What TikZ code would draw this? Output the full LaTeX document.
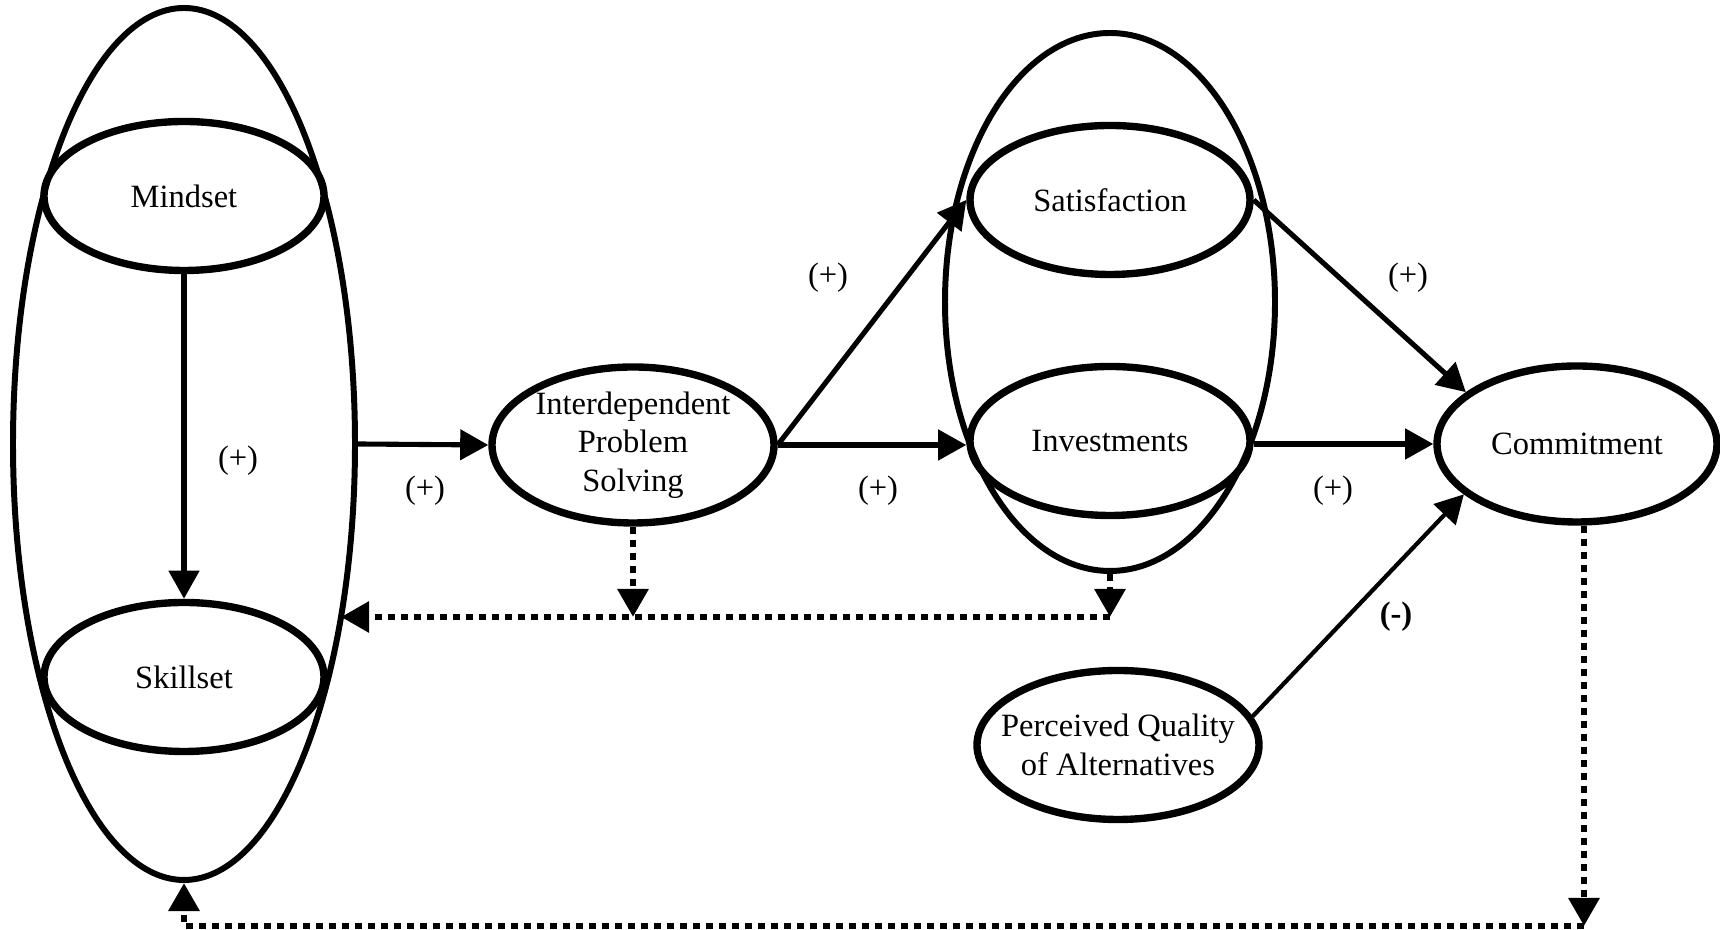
\documentclass[tikz,border=0pt]{standalone}
\usepackage{fontspec}
\setmainfont{Liberation Serif}
\usetikzlibrary{shapes.geometric,arrows.meta}
\tikzset{
  blob/.style={ellipse, draw, line width=4.2pt, inner sep=-0.6cm, minimum width=5.6cm, minimum height=2.98cm, align=center},
  cluster/.style={ellipse, draw, line width=3.4pt, inner sep=0pt},
  link/.style={-{Triangle[length=16pt, width=17pt]}, line width=2.9pt},
  feedback/.style={-{Triangle[length=16pt, width=17pt]}, line width=3.8pt, dash pattern=on 4pt off 3.4pt},
  sign/.style={inner sep=0pt}
}

\begin{document}
\begin{tikzpicture}[font=\fontsize{18.5}{22}\selectfont]
        \useasboundingbox (0, 0) rectangle (34.4, 18.6);

        % the two groupings
        \node [cluster, minimum width=6.84cm, minimum height=17.44cm] (self) at (3.68, 9.72) {};
        \node [cluster, minimum width=6.6cm, minimum height=10.76cm] (eval) at (22.2, 12.56) {};

        \node [blob] (mind) at (3.68, 14.68) {Mindset};
        \node [blob] (skill) at (3.68, 5.06) {Skillset};
        \node [blob, minimum width=5.64cm, minimum height=3.12cm] (ips) at (12.66, 9.70) {Interdependent\\Problem\\Solving};
        \node [blob] (sat) at (22.2, 14.6) {Satisfaction};
        \node [blob] (inv) at (22.2, 9.78) {Investments};
        \node [blob, minimum height=3.12cm] (com) at (31.54, 9.72) {Commitment};
        \node [blob, minimum width=5.64cm] (pqa) at (22.36, 3.70) {Perceived Quality\\of Alternatives};

        \draw [link] (mind) -- (skill);
        \draw [link] (self.east) -- (ips.west);
        \draw [link] (ips.east) -- (sat.west);
        \draw [link] (ips.east) -- (ips.east -| inv.west);
        \draw [link] (sat.east) -- (com.155);
        \draw [link] (com.west -| inv.east) -- (com.west);
        \draw [link, line width=2.4pt] (pqa.12) -- (com.204);

        \node [sign] (s1) at (4.76, 9.38) {(+)};
        \node [sign] (s2) at (8.5, 8.78) {(+)};
        \node [sign] (s3) at (16.56, 13.04) {(+)};
        \node [sign] (s4) at (17.56, 8.78) {(+)};
        \node [sign] (s5) at (28.16, 13.04) {(+)};
        \node [sign] (s6) at (26.66, 8.78) {(+)};
        \node [sign] (s7) at (27.92, 6.26) {\bfseries (-)};

        % feedback loops
        \coordinate (jn) at (22.2, 6.26);
        \coordinate (tip) at (6.82, 6.26);
        \coordinate (br) at (31.68, 0.08);
        \draw [feedback] (ips.south) -- (ips.south |- jn);
        \draw [feedback] (eval.south) -- (jn);
        \draw [feedback] (jn) -- (tip);
        \draw [feedback] ([xshift=1.4mm]com.south) -- (br);
        \draw [feedback] (br) -- (br -| self.south) -- (self.south);
      \end{tikzpicture}
\end{document}
